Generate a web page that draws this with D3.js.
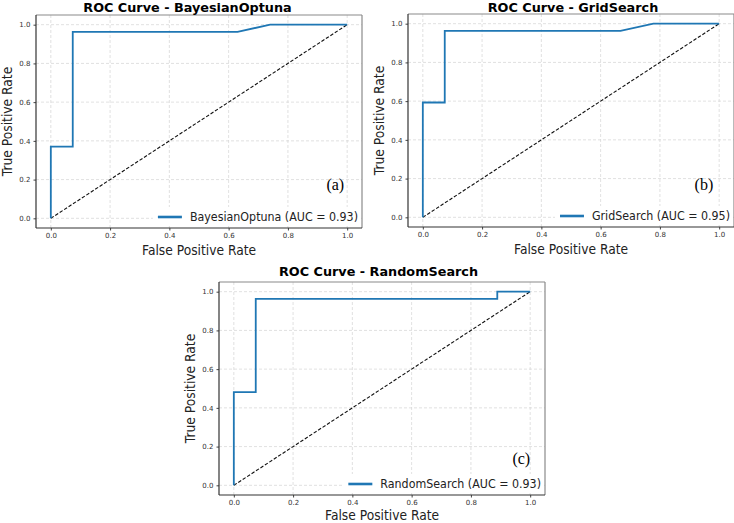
<!DOCTYPE html>
<html>
<head>
<meta charset="utf-8">
<script src="https://cdn.jsdelivr.net/npm/d3@7"></script>
<style>
  body { margin: 0; background: #fff; }
  svg { display: block; }
</style>
</head>
<body>
<div id="chart"></div>
<script>
// ROC curve points (fpr / tpr pairs)
var fprBayes = [0, 0, 0.074, 0.074, 0.63, 0.74, 1];
var tprBayes = [0, 0.37, 0.37, 0.963, 0.963, 1, 1];

var fprGrid = [0, 0, 0.074, 0.074, 0.667, 0.778, 1];
var tprGrid = [0, 0.593, 0.593, 0.963, 0.963, 1, 1];

var fprRandom = [0, 0, 0.074, 0.074, 0.889, 0.889, 1];
var tprRandom = [0, 0.481, 0.481, 0.963, 0.963, 1, 1];

var modelNames = ["BayesianOptuna", "GridSearch", "RandomSearch"];
var aucValues = [0.93, 0.95, 0.93];
var panelTags = ["(a)", "(b)", "(c)"];
var tickValues = [0, 0.2, 0.4, 0.6, 0.8, 1.0];

// layout of the three axes boxes
var panels = [
  {left: 36, top: 15, titleX: 187.5, titleY: 12, xlabDy: 26.5, tagX: 0.99, tagY: 0.146, fpr: fprBayes, tpr: tprBayes},
  {left: 408, top: 14, titleX: 573, titleY: 12, xlabDy: 26.5, tagX: 0.98, tagY: 0.141, fpr: fprGrid, tpr: tprGrid},
  {left: 219, top: 282, titleX: 378.5, titleY: 276, xlabDy: 24.5, tagX: 1.0, tagY: 0.109, fpr: fprRandom, tpr: tprRandom}
];
var boxWidth = 326, boxHeight = 213;
var stretch = 1.1; // label text in the picture is a bit taller than the font

var svg = d3.select("#chart").append("svg")
  .attr("width", 734)
  .attr("height", 523);

// text drawn slightly stretched in height
function tallText(parent, x, y, rotate, str) {
  var t = parent.append("g")
    .attr("transform", "translate(" + x + "," + y + ")" + (rotate ? " rotate(-90)" : "") + " scale(1," + stretch + ")")
    .append("text")
    .style("font-family", "DejaVu Sans")
    .text(str);
  return t;
}

panels.forEach(function(p, i) {
  var xScale = d3.scaleLinear().domain([-0.05, 1.05]).range([0, boxWidth]);
  var yScale = d3.scaleLinear().domain([-0.05, 1.05]).range([boxHeight, 0]);

  var g = svg.append("g")
    .attr("transform", "translate(" + p.left + "," + p.top + ")");

  // grid lines
  g.selectAll(".vgrid").data(tickValues).enter().append("line")
    .attr("x1", function(d) { return xScale(d); })
    .attr("x2", function(d) { return xScale(d); })
    .attr("y1", 0).attr("y2", boxHeight)
    .attr("stroke", "#d4d4d4").attr("stroke-width", 0.7)
    .attr("stroke-dasharray", "3,2");
  g.selectAll(".hgrid").data(tickValues).enter().append("line")
    .attr("y1", function(d) { return yScale(d); })
    .attr("y2", function(d) { return yScale(d); })
    .attr("x1", 0).attr("x2", boxWidth)
    .attr("stroke", "#d4d4d4").attr("stroke-width", 0.7)
    .attr("stroke-dasharray", "3,2");

  // axes
  var xAxis = g.append("g")
    .attr("transform", "translate(0," + boxHeight + ")")
    .call(d3.axisBottom(xScale).tickValues(tickValues).tickFormat(d3.format(".1f")).tickSize(2.5).tickPadding(3));
  var yAxis = g.append("g")
    .call(d3.axisLeft(yScale).tickValues(tickValues).tickFormat(d3.format(".1f")).tickSize(2.5).tickPadding(3));
  [xAxis, yAxis].forEach(function(a) {
    a.select(".domain").remove();
    a.selectAll("line").attr("stroke", "#444");
    a.selectAll("text")
      .attr("fill", "#333")
      .style("font-family", "DejaVu Sans")
      .style("font-size", "7px");
  });

  // chance diagonal
  g.append("line")
    .attr("x1", xScale(0)).attr("y1", yScale(0))
    .attr("x2", xScale(1)).attr("y2", yScale(1))
    .attr("stroke", "#111").attr("stroke-width", 1.1)
    .attr("stroke-dasharray", "3.5,1.8");

  // roc curve
  var pts = p.fpr.map(function(f, k) { return [f, p.tpr[k]]; });
  var line = d3.line()
    .x(function(d) { return xScale(d[0]); })
    .y(function(d) { return yScale(d[1]); });
  g.append("path")
    .datum(pts)
    .attr("d", line)
    .attr("fill", "none")
    .attr("stroke", "#1f77b4")
    .attr("stroke-width", 1.8);

  // spines: top/right lighter than left/bottom
  g.append("line").attr("x1", 0).attr("x2", boxWidth).attr("y1", 0).attr("y2", 0)
    .attr("stroke", "#8a8a8a").attr("stroke-width", 1.2);
  g.append("line").attr("x1", boxWidth).attr("x2", boxWidth).attr("y1", 0).attr("y2", boxHeight)
    .attr("stroke", "#8a8a8a").attr("stroke-width", 1.2);
  g.append("line").attr("x1", 0).attr("x2", 0).attr("y1", 0).attr("y2", boxHeight)
    .attr("stroke", "#333").attr("stroke-width", 1.2);
  g.append("line").attr("x1", 0).attr("x2", boxWidth).attr("y1", boxHeight).attr("y2", boxHeight)
    .attr("stroke", "#333").attr("stroke-width", 1.2);

  // legend
  var legendText = modelNames[i] + " (AUC = " + aucValues[i].toFixed(2) + ")";
  var lg = g.append("g");
  var lbox = lg.append("rect");
  var lt = tallText(lg, boxWidth - 4, boxHeight - 7, false, legendText)
    .attr("text-anchor", "end")
    .attr("fill", "#222")
    .style("font-size", "11.1px");
  var tw = lt.node().getComputedTextLength();
  var tx = boxWidth - 4 - tw;
  lbox.attr("x", tx - 37).attr("y", boxHeight - 21)
    .attr("width", tw + 39).attr("height", 19)
    .attr("fill", "#fff");
  lg.append("line")
    .attr("x1", tx - 32).attr("x2", tx - 8)
    .attr("y1", boxHeight - 11).attr("y2", boxHeight - 11)
    .attr("stroke", "#1f77b4").attr("stroke-width", 2.6);

  // panel tag
  g.append("text")
    .attr("x", xScale(p.tagX))
    .attr("y", yScale(p.tagY))
    .attr("text-anchor", "end")
    .attr("fill", "#000")
    .style("font-family", "Liberation Serif")
    .style("font-size", "16px")
    .text(panelTags[i]);

  // title
  svg.append("text")
    .attr("x", p.titleX)
    .attr("y", p.titleY)
    .attr("text-anchor", "middle")
    .attr("fill", "#000")
    .style("font-family", "DejaVu Sans")
    .style("font-weight", "bold")
    .style("font-size", "12.8px")
    .text("ROC Curve - " + modelNames[i]);

  // axis labels
  tallText(g, boxWidth / 2, boxHeight + p.xlabDy, false, "False Positive Rate")
    .attr("text-anchor", "middle")
    .attr("fill", "#222")
    .style("font-size", "12.3px");
  tallText(g, -24.5, boxHeight / 2, true, "True Positive Rate")
    .attr("text-anchor", "middle")
    .attr("fill", "#222")
    .style("font-size", "12.3px");
});
</script>
</body>
</html>
